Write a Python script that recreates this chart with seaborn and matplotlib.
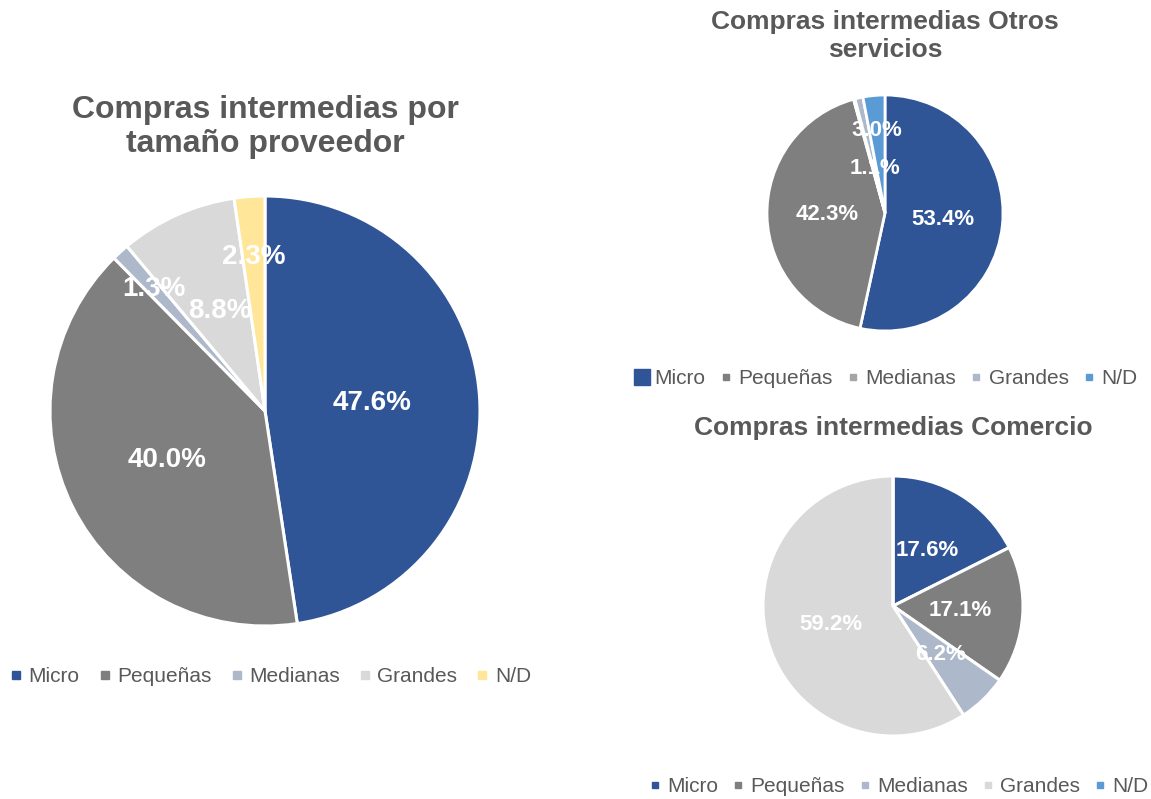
import matplotlib
matplotlib.use("Agg")
import numpy as np
import matplotlib.pyplot as plt
from matplotlib.lines import Line2D
import seaborn as sns

# data
categories = ["Micro", "Pequeñas", "Medianas", "Grandes", "N/D"]
total_values = [47.6, 40.0, 1.3, 8.8, 2.3]
otros_values = [53.4, 42.3, 0.2, 1.1, 3.0]
comercio_values = [17.6, 17.1, 6.2, 59.2, 0.0]

total_title = "Compras intermedias por\ntamaño proveedor"
otros_title = "Compras intermedias Otros\nservicios"
comercio_title = "Compras intermedias Comercio"

total_colors = sns.color_palette(["#2F5597", "#7F7F7F", "#ADB9CA", "#D9D9D9", "#FFE699"])
otros_colors = sns.color_palette(["#2F5597", "#7F7F7F", "#A5A5A5", "#ADB9CA", "#5B9BD5"])
comercio_colors = sns.color_palette(["#2F5597", "#7F7F7F", "#ADB9CA", "#D9D9D9", "#5B9BD5"])

sns.set_theme(style="white")
plt.rcParams["font.family"] = ["Liberation Sans", "DejaVu Sans"]

W, H = 1151, 799
fig = plt.figure(figsize=(W / 100, H / 100), dpi=100)
TXT = "#595959"


def draw_pie(values, colors, cx, cy, r, label_dist, label_size, lw):
    pad = 1.05
    ax = fig.add_axes([(cx - r * pad) / W, 1 - (cy + r * pad) / H,
                       2 * r * pad / W, 2 * r * pad / H])
    wedges, _ = ax.pie(values, colors=colors, startangle=90, counterclock=False,
                       wedgeprops=dict(edgecolor="white", linewidth=lw))
    ax.set_xlim(-pad, pad)
    ax.set_ylim(-pad, pad)
    ax.set_aspect("equal")
    ax.axis("off")
    for w, v, d in zip(wedges, values, label_dist):
        if v < 0.5:
            continue
        ang = np.deg2rad((w.theta1 + w.theta2) / 2)
        ax.text(d * np.cos(ang), d * np.sin(ang), f"{v:.1f}%", color="white",
                fontsize=label_size, fontweight="bold", ha="center", va="center")
    return ax


def add_legend(colors, cx, cy, sizes, spacing):
    handles = [Line2D([], [], linestyle="none", marker="s", markersize=s,
                      markerfacecolor=c, markeredgecolor=c)
               for c, s in zip(colors, sizes)]
    fig.legend(handles, categories, loc="center", ncol=5, frameon=False,
               bbox_to_anchor=(cx / W, 1 - cy / H), fontsize=15,
               labelcolor=TXT, handlelength=0.5, handletextpad=0.35,
               columnspacing=spacing, borderaxespad=0, borderpad=0)


# left: total
draw_pie(total_values, total_colors, 265, 411, 215,
         [0.5, 0.51, 0.77, 0.51, 0.72], 20, 2.2)
fig.text(265 / W, 1 - 127 / H, total_title, ha="center", va="center",
         fontsize=23, fontweight="bold", color=TXT, linespacing=1.2)
add_legend(total_colors, 271, 677, [6] * 5, 0.95)

# top right: otros servicios
draw_pie(otros_values, otros_colors, 885, 213, 118,
         [0.49, 0.49, 0.4, 0.39, 0.7], 16, 2)
fig.text(885 / W, 1 - 36 / H, otros_title, ha="center", va="center",
         fontsize=19, fontweight="bold", color=TXT, linespacing=1.25)
add_legend(otros_colors, 887, 379, [11, 5, 5, 5, 5], 0.72)

# bottom right: comercio
draw_pie(comercio_values, comercio_colors, 893, 606, 130,
         [0.5, 0.52, 0.52, 0.5, 0.5], 16, 2.2)
fig.text(893 / W, 1 - 428 / H, comercio_title, ha="center", va="center",
         fontsize=19, fontweight="bold", color=TXT)
add_legend(comercio_colors, 899, 787, [5] * 5, 0.7)

fig.savefig("out.png", dpi=100)
